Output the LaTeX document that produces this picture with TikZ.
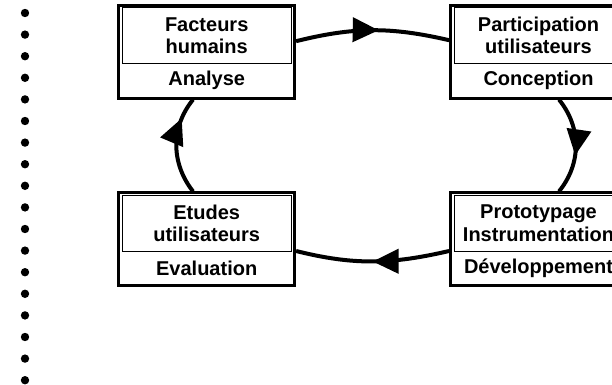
\documentclass[tikz,border=0pt]{standalone}
\usepackage{fontspec}
\setmainfont{Liberation Sans}
\usetikzlibrary{positioning,arrows.meta,decorations.markings}

\begin{document}
\begin{tikzpicture}[x=1pt,y=1pt,
    etape/.style={draw, line width=2.8pt, minimum width=176pt,
      minimum height=93pt, inner sep=0pt},
    acteur/.style={draw, line width=0.9pt, minimum width=169pt,
      minimum height=56pt, inner sep=0pt, align=center,
      font=\bfseries\fontsize{20}{22.6}\selectfont},
    phase/.style={minimum height=33pt, inner sep=0pt,
      font=\bfseries\fontsize{20}{22.6}\selectfont},
    boucle/.style={line width=4pt, postaction={decorate},
      decoration={markings, mark=at position #1 with
        {\arrow{Triangle[length=26pt,width=24pt]}}}}
  ]
    \useasboundingbox (0,0) rectangle (612,384);

    % Pointillé à gauche
    \foreach \k in {0,...,17}
      \fill (25,{371-21.6*\k}) circle (4.2pt);

    % Les quatre étapes
    \node[etape] (ana) at (206.7,332.3) {};
    \node[etape] (con) at (538.5,332.3) {};
    \node[etape] (dev) at (538.5,144.7) {};
    \node[etape] (eva) at (206.7,144.7) {};

    \node[acteur, below=3.3pt of ana.north] (anaA) {Facteurs\\humains};
    \node[phase, below=0pt of anaA] (anaP) {Analyse};

    \node[acteur, below=3.3pt of con.north] (conA) {Participation\\utilisateurs};
    \node[phase, below=0pt of conA] (conP) {Conception};

    \node[acteur, below=3.3pt of dev.north] (devA) {Prototypage\\Instrumentation};
    \node[phase, below=0pt of devA] (devP) {Développement};

    \node[acteur, below=3.3pt of eva.north] (evaA) {Etudes\\utilisateurs};
    \node[phase, below=0pt of evaA] (evaP) {Evaluation};

    % Le cycle
    \draw[boucle=0.54]
      ([yshift=10.5pt]ana.east) to[out=14,in=167] ([yshift=11.5pt]con.west);
    \draw[boucle=0.6]
      ([xshift=20.5pt]con.south) to[out=-51,in=51] ([xshift=20.5pt]dev.north);
    \draw[boucle=0.5]
      ([yshift=-11.7pt]dev.west) to[out=-167,in=-14] ([yshift=-11.7pt]eva.east);
    \draw[boucle=0.78]
      ([xshift=-13.7pt]eva.north) to[out=128,in=-129] ([xshift=-13.7pt]ana.south);

\end{tikzpicture}
\end{document}
